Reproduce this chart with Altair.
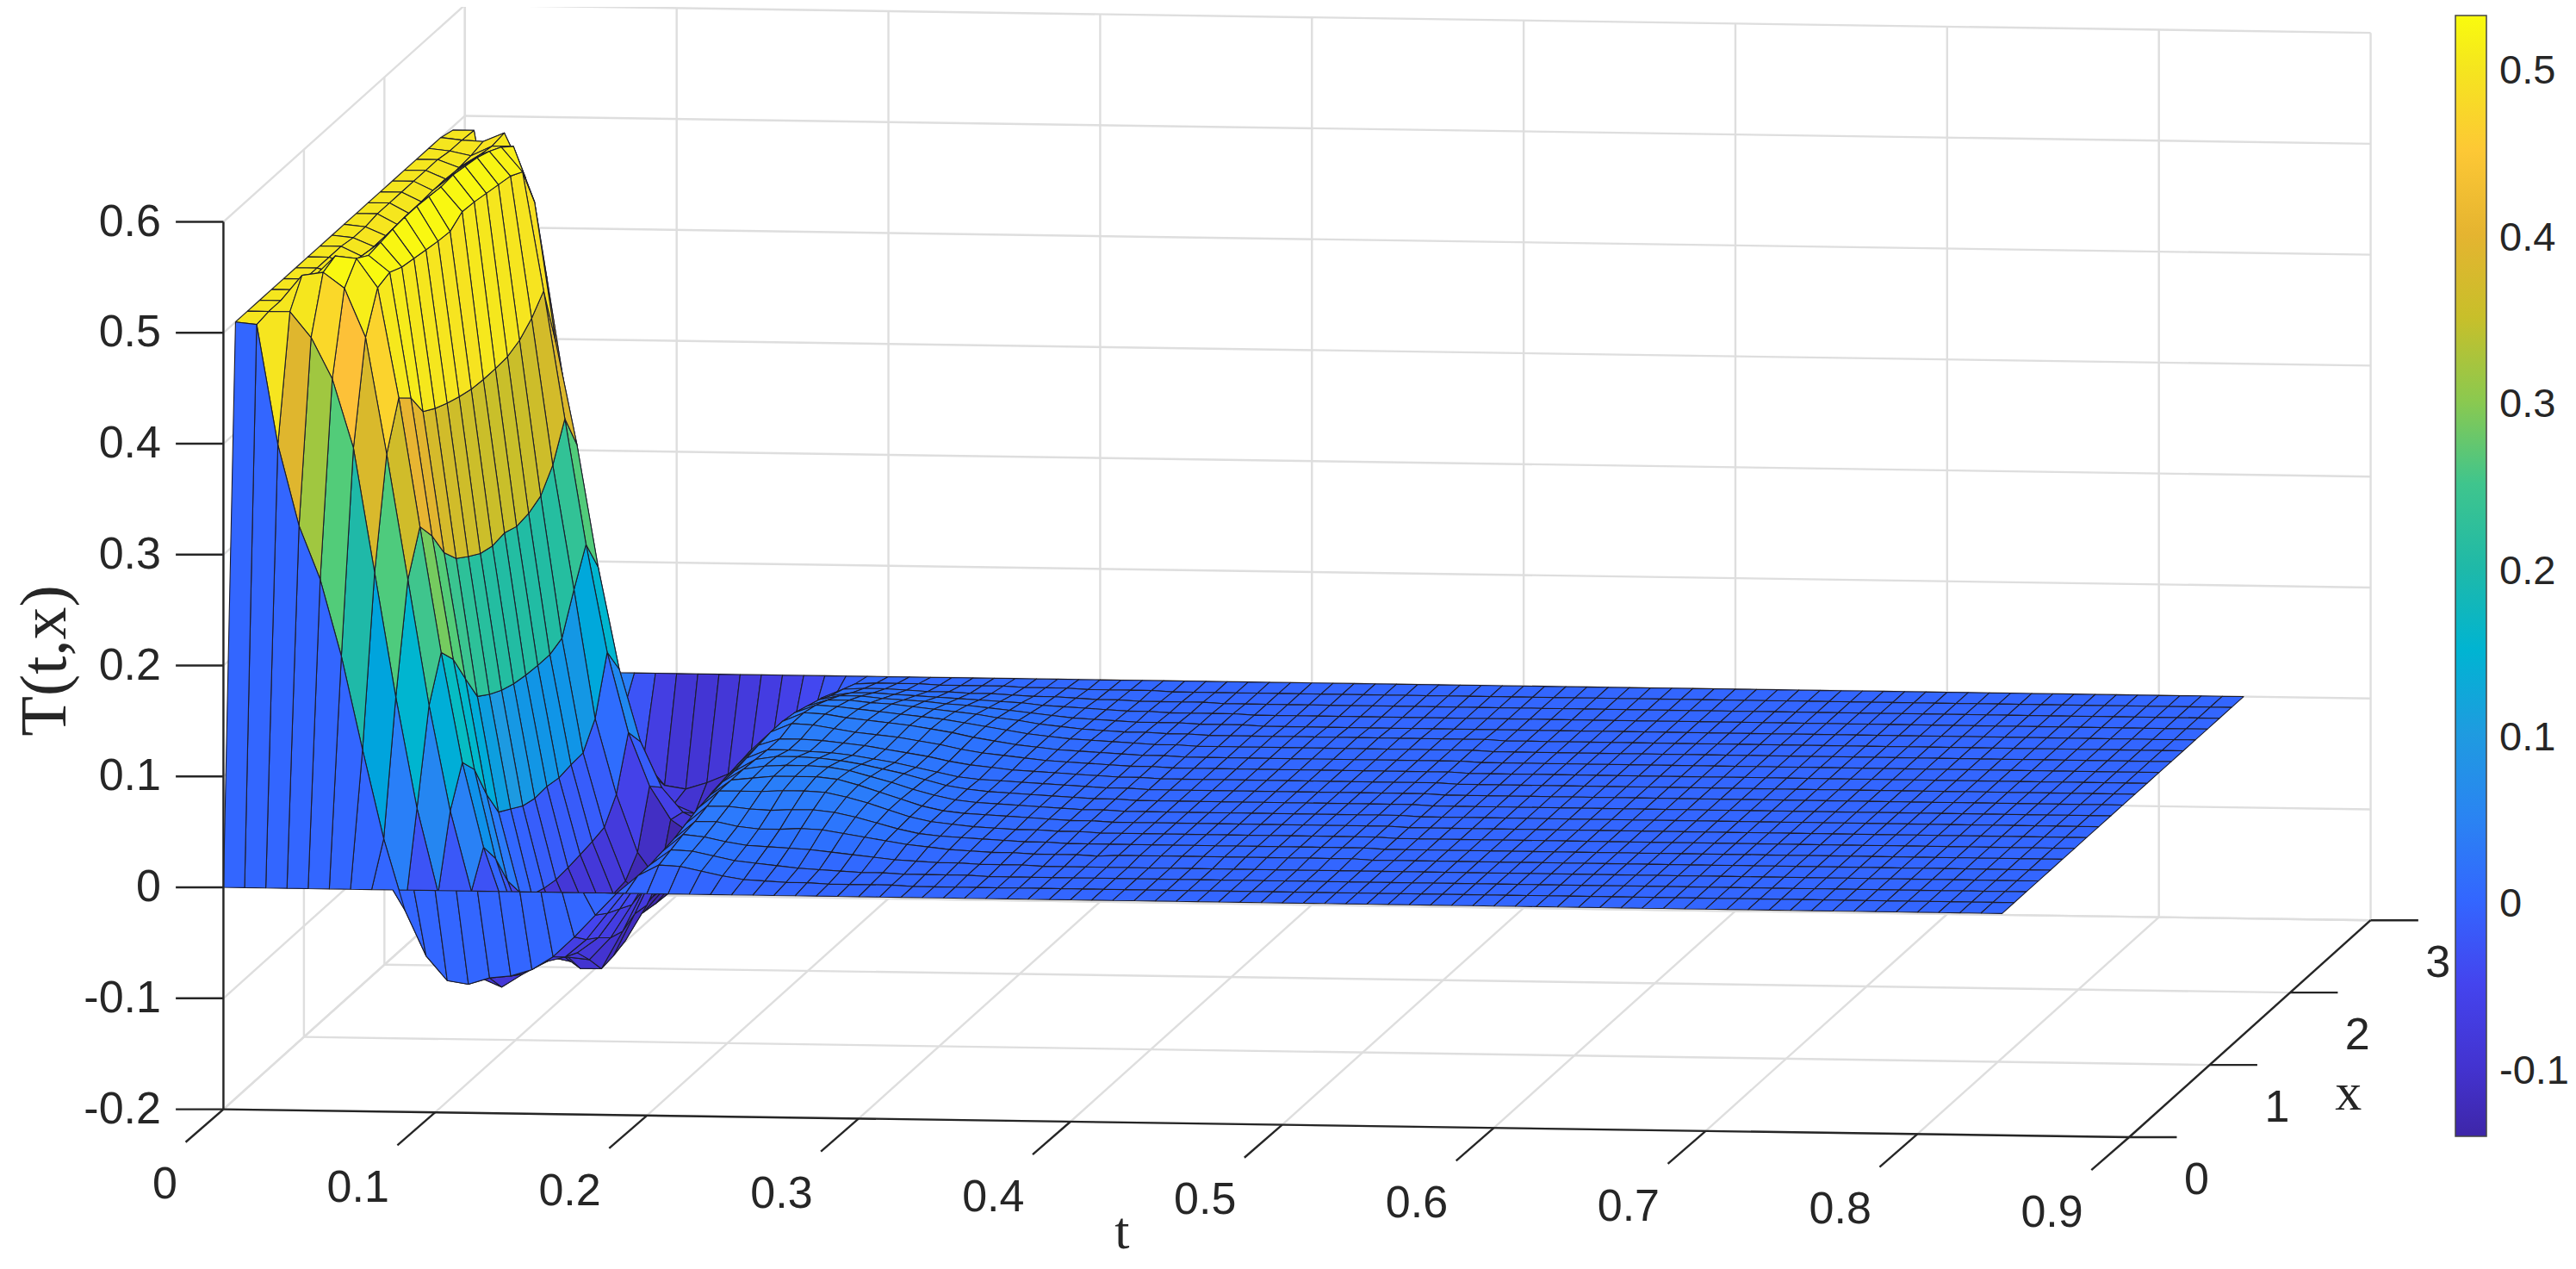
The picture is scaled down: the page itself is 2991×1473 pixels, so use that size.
import altair as alt
import pandas as pd

alt.data_transformers.disable_max_rows()

# grid of the surface: t = 0 .. 0.84 in 0.01 steps, x = 0 .. 3 in 0.15 steps
t_values = [i / 100 for i in range(85)]
x_values = [j * 0.15 for j in range(21)]

# T(t,x) in thousandths, one row per x node; early part, t = 0 .. 0.19
head = [
    [0] * 20,
    [500, 498, 390, 317, 269, 200, 116, 36, -28, -69, -91, -94, -88, -86, -80, -68, -50, -30, -10, 6],
    [500, 500, 500, 477, 440, 378, 266, 154, 54, -22, -72, -98, -106, -94, -83, -78, -62, -38, -14, 6],
    [500, 500, 523, 526, 512, 468, 363, 250, 137, 42, -30, -80, -102, -98, -88, -84, -70, -44, -16, 8],
    [500, 500, 512, 531, 529, 503, 404, 288, 175, 76, 0, -55, -90, -95, -98, -100, -80, -50, -18, 10],
    [500, 500, 500, 515, 522, 507, 394, 270, 159, 60, -20, -75, -98, -104, -118, -118, -84, -46, -14, 14],
    [500, 500, 495, 510, 524, 502, 372, 245, 132, 28, -50, -100, -118, -122, -120, -116, -78, -38, -8, 18],
    [500, 500, 492, 508, 526, 500, 365, 230, 106, 2, -70, -115, -130, -130, -118, -112, -80, -40, -4, 20],
    [500, 500, 491, 508, 527, 498, 360, 222, 98, -5, -82, -125, -138, -132, -114, -88, -58, -26, 0, 22],
    [500, 498, 490, 509, 527, 496, 356, 215, 92, -12, -86, -130, -140, -132, -112, -84, -52, -20, 4, 22],
    [500, 498, 490, 510, 526, 495, 353, 212, 88, -15, -88, -132, -142, -132, -110, -80, -48, -16, 6, 24],
    [500, 500, 490, 510, 525, 503, 352, 214, 86, -14, -87, -132, -143, -134, -112, -82, -48, -14, 8, 26],
    [500, 500, 490, 511, 526, 502, 352, 210, 85, -16, -85, -131, -146, -136, -114, -84, -50, -14, 10, 28],
    [500, 500, 491, 511, 524, 500, 353, 212, 85, -14, -83, -130, -146, -138, -116, -86, -52, -16, 10, 28],
    [500, 500, 491, 510, 522, 498, 358, 218, 90, -13, -80, -128, -145, -139, -118, -88, -54, -18, 8, 26],
    [500, 500, 492, 508, 518, 496, 368, 236, 124, 8, -60, -112, -138, -136, -118, -90, -58, -22, 6, 22],
    [500, 500, 493, 505, 512, 490, 383, 268, 155, 58, -14, -62, -92, -105, -100, -84, -58, -26, 4, 18],
    [500, 498, 494, 503, 503, 453, 327, 235, 125, 33, -32, -73, -95, -104, -100, -82, -56, -26, 2, 12],
    [500, 498, 497, 505, 465, 376, 258, 150, 50, -25, -72, -98, -106, -104, -94, -76, -52, -24, 0, 8],
    [497, 497, 390, 317, 269, 200, 116, 36, -28, -69, -91, -94, -88, -80, -72, -62, -46, -28, -10, 3],
    [0] * 20,
]

# the hump, t = 0.20 .. 0.39
hump = [
    [0] * 20,
    [16, 15, 11, 7, 4, 3, 2, 2, 1, 1, 1, 1, 0, 0, 0, 0, 0, 0, 0, 0],
    [20, 19, 15, 11, 9, 7, 5, 4, 3, 2, 2, 1, 1, 1, 1, 0, 0, 0, 0, 0],
    [24, 22, 18, 15, 14, 13, 12, 10, 8, 6, 4, 3, 2, 2, 1, 1, 1, 0, 0, 0],
    [26, 26, 22, 20, 20, 21, 20, 17, 14, 11, 8, 6, 4, 3, 2, 2, 1, 1, 1, 0],
    [30, 30, 28, 27, 28, 28, 26, 22, 17, 12, 8, 6, 5, 4, 3, 2, 2, 1, 1, 1],
    [34, 34, 34, 35, 35, 34, 30, 25, 19, 13, 9, 7, 5, 4, 3, 3, 2, 2, 1, 1],
    [34, 36, 38, 38, 38, 36, 31, 25, 19, 13, 9, 7, 6, 5, 4, 3, 2, 2, 1, 1],
    [34, 37, 38, 38, 37, 34, 29, 24, 18, 13, 9, 7, 6, 5, 4, 3, 2, 2, 1, 1],
    [33, 36, 36, 35, 33, 30, 26, 22, 17, 12, 9, 7, 6, 5, 4, 3, 2, 2, 1, 1],
    [32, 32, 31, 30, 28, 25, 22, 18, 14, 10, 8, 7, 6, 5, 4, 3, 2, 2, 1, 1],
    [32, 32, 31, 29, 27, 24, 21, 18, 14, 11, 9, 7, 6, 5, 4, 3, 2, 2, 1, 1],
    [36, 35, 32, 29, 27, 25, 22, 19, 15, 12, 10, 8, 6, 5, 4, 3, 2, 2, 1, 1],
    [36, 35, 32, 30, 28, 26, 23, 20, 16, 13, 10, 8, 6, 5, 4, 3, 2, 2, 1, 1],
    [33, 32, 30, 28, 26, 24, 22, 19, 16, 13, 10, 8, 6, 5, 4, 3, 2, 2, 1, 1],
    [28, 28, 26, 25, 23, 21, 19, 17, 14, 12, 9, 7, 5, 4, 3, 3, 2, 2, 1, 1],
    [22, 22, 20, 19, 18, 16, 15, 13, 11, 9, 7, 5, 4, 3, 2, 2, 2, 1, 1, 1],
    [15, 15, 14, 13, 12, 11, 10, 9, 8, 6, 5, 4, 3, 2, 2, 1, 1, 1, 1, 0],
    [9, 9, 8, 7, 7, 6, 6, 5, 4, 4, 3, 2, 2, 1, 1, 1, 1, 0, 0, 0],
    [4, 4, 4, 3, 3, 3, 3, 2, 2, 2, 1, 1, 1, 1, 0, 0, 0, 0, 0, 0],
    [0] * 20,
]

# nearly flat tail, t = 0.40 .. 0.84
tail_mid = [1, 1, 1, 1, 1, 1, 1, 1, 1, 1, 1, 1, 0, 0, 0, 0, 0, 0, 0, 0, 0, 0, 0,
            0, 0, 0, 0, 0, 0, 0, 0, 0, 0, 0, 0, 0, 0, 0, 0, 0, 0, 0, 0, 0, 0]
tail_edge = [0] * 45
tails = [tail_edge, tail_edge, tail_edge, tail_edge, tail_mid, tail_mid, tail_mid,
         tail_mid, tail_mid, tail_mid, tail_mid, tail_mid, tail_mid, tail_mid,
         tail_mid, tail_mid, tail_edge, tail_edge, tail_edge, tail_edge, tail_edge]

# axis ticks
z_ticks = [-0.2, -0.1, 0, 0.1, 0.2, 0.3, 0.4, 0.5, 0.6]
z_labels = ["-0.2", "-0.1", "0", "0.1", "0.2", "0.3", "0.4", "0.5", "0.6"]
t_ticks = [0, 0.1, 0.2, 0.3, 0.4, 0.5, 0.6, 0.7, 0.8, 0.9]
t_labels = ["0", "0.1", "0.2", "0.3", "0.4", "0.5", "0.6", "0.7", "0.8", "0.9"]
x_ticks = [0, 1, 2, 3]
bar_ticks = [-0.1, 0, 0.1, 0.2, 0.3, 0.4, 0.5]
bar_labels = ["-0.1", "0", "0.1", "0.2", "0.3", "0.4", "0.5"]

# parula as it reads off the colorbar
color_domain = [-0.1415, -0.1, -0.05, 0, 0.025, 0.05, 0.1, 0.17, 0.2, 0.25, 0.27, 0.3, 0.35, 0.4, 0.43, 0.45, 0.5, 0.531]
color_range = ["#3e26a8", "#4333d0", "#4444ee", "#3366ff", "#2c7afc", "#2a84f2", "#1f9be0", "#0abcc8", "#1fb9a8",
               "#3fc58d", "#53cc78", "#8bc94f", "#c8bf2a", "#e5b430", "#fdbb3c", "#fdc835", "#f5e61e", "#f9fb0e"]

K = 2991 / 1568
W, H = 2975, 1457


# view of the box, orthographic: 3D point to page pixel
def px(t, x):
    return K * (136 + t / 0.9 * 1160 + x / 3 * 147)


def py(t, x, z):
    return K * (540 + t / 0.9 * 17 - x / 3 * 132 - z / 0.1 * 67.5)


# surface cells, far ones first; a cell takes the colour of its first corner
T = [[v / 1000 for v in head[j] + hump[j] + tails[j]] for j in range(21)]
cells = []
for i in range(len(t_values) - 1):
    for j in range(len(x_values) - 1):
        corners = [(i, j), (i + 1, j), (i + 1, j + 1), (i, j + 1), (i, j)]
        mean_t = (t_values[i] + t_values[i + 1]) / 2
        mean_x = (x_values[j] + x_values[j + 1]) / 2
        mean_z = sum(T[b][a] for a, b in corners[:4]) / 4
        depth = 380 * mean_x - 163 * mean_t - 78 * mean_z
        cells.append((depth, i, j, corners))
cells.sort(key=lambda c: -c[0])

rows = []
for n, (depth, i, j, corners) in enumerate(cells):
    for v, (a, b) in enumerate(corners):
        rows.append({"cell": n, "v": v, "T": T[j][i],
                     "px": px(t_values[a], x_values[b]),
                     "py": py(t_values[a], x_values[b], T[b][a])})
surface = pd.DataFrame(rows)


def segments(points):
    out = []
    for n, (a, b) in enumerate(points):
        out.append({"id": n, "v": 0, "px": a[0], "py": a[1]})
        out.append({"id": n, "v": 1, "px": b[0], "py": b[1]})
    return pd.DataFrame(out)


def p3(t, x, z):
    return (px(t, x), py(t, x, z))


zlo, zhi = -0.2, 0.6
grid_pts = []
for z in z_ticks:
    grid_pts.append((p3(0, 0, z), p3(0, 3, z)))
    grid_pts.append((p3(0, 3, z), p3(0.9, 3, z)))
for t in t_ticks:
    grid_pts.append((p3(t, 3, zlo), p3(t, 3, zhi)))
    grid_pts.append((p3(t, 0, zlo), p3(t, 3, zlo)))
for x in x_ticks:
    grid_pts.append((p3(0, x, zlo), p3(0, x, zhi)))
    grid_pts.append((p3(0, x, zlo), p3(0.9, x, zlo)))

axis_pts = [
    (p3(0, 0, zlo), p3(0, 0, zhi)),
    (p3(0, 0, zlo), p3(0.9, 0, zlo)),
    (p3(0.9, 0, zlo), p3(0.9, 3, zlo)),
]
for z in z_ticks:
    a = p3(0, 0, z)
    axis_pts.append((a, (a[0] - 29 * K, a[1])))
for t in t_ticks:
    a = p3(t, 0, zlo)
    axis_pts.append((a, (a[0] - 23 * K, a[1] + 20 * K)))
for x in x_ticks:
    a = p3(0.9, x, zlo)
    axis_pts.append((a, (a[0] + 29 * K, a[1])))


def bar_y(v):
    return 78.3 + (0.5 - v) * 1934


bar_pts = [((2873, bar_y(v)), (2887, bar_y(v))) for v in bar_ticks]

labels = []
for z, s in zip(z_ticks, z_labels):
    a = p3(0, 0, z)
    labels.append({"s": s, "px": a[0] - 38 * K, "py": a[1], "align": "right"})
for t, s in zip(t_ticks, t_labels):
    a = p3(t, 0, zlo)
    labels.append({"s": s, "px": a[0] - 28 * K, "py": a[1] + 46 * K, "align": "right"})
for x in x_ticks:
    a = p3(0.9, x, zlo)
    labels.append({"s": str(x), "px": a[0] + 41 * K, "py": a[1] + 26 * K, "align": "center"})
labels = pd.DataFrame(labels)

xs = alt.X("px:Q", scale=alt.Scale(domain=[8, 8 + W], range=[0, W]), axis=None)
ys = alt.Y("py:Q", scale=alt.Scale(domain=[8, 8 + H], range=[0, H]), axis=None)


def lines(df, color, width):
    return alt.Chart(df).mark_line(color=color, strokeWidth=width).encode(
        x=xs, y=ys, detail="id:N", order="v:Q"
    )


surface_layer = alt.Chart(surface).mark_line(
    filled=True, stroke="#1c1c2a", strokeWidth=1.1, strokeJoin="round"
).encode(
    x=xs, y=ys, detail="cell:N", order="v:Q",
    fill=alt.Fill(
        "T:Q",
        scale=alt.Scale(domain=color_domain, range=color_range, clamp=True),
        legend=alt.Legend(
            type="gradient", orient="none", direction="vertical", title=None,
            legendX=2843, legendY=10,
            gradientLength=1301, gradientThickness=36,
            gradientStrokeColor="#444444", gradientStrokeWidth=1.5,
            values=bar_ticks, labelExpr="''",
        ),
    ),
)

tick_text = alt.Chart(labels[labels["align"] == "right"]).mark_text(
    align="right", baseline="middle", font="Liberation Sans", fontSize=52, color="#262626"
).encode(x=xs, y=ys, text="s:N")
x_text = alt.Chart(labels[labels["align"] == "center"]).mark_text(
    align="center", baseline="middle", font="Liberation Sans", fontSize=52, color="#262626"
).encode(x=xs, y=ys, text="s:N")

bar_text = alt.Chart(pd.DataFrame({
    "s": bar_labels, "px": [2902] * len(bar_labels), "py": [bar_y(v) + 5 for v in bar_ticks],
})).mark_text(
    align="left", baseline="middle", font="Liberation Sans", fontSize=47, color="#262626"
).encode(x=xs, y=ys, text="s:N")

titles = pd.DataFrame([
    {"s": "t", "px": px(0.45, 0) - 33 * K, "py": py(0.45, 0, -0.2) + 66 * K},
    {"s": "x", "px": px(0.9, 1.5) + 60 * K, "py": py(0.9, 1.5, -0.2) + 39 * K},
])
title_text = alt.Chart(titles).mark_text(
    align="center", baseline="middle", font="Liberation Serif", fontSize=62, color="#262626"
).encode(x=xs, y=ys, text="s:N")
z_title = alt.Chart(pd.DataFrame([{"s": "T(t,x)", "px": 28 * K, "py": py(0, 0, 0.2) - 3 * K}])).mark_text(
    align="center", baseline="middle", font="Liberation Serif", fontSize=76, color="#262626", angle=270
).encode(x=xs, y=ys, text="s:N")

chart = alt.layer(
    lines(segments(grid_pts), "#dedede", 2.4),
    surface_layer,
    lines(segments(axis_pts), "#262626", 2.4),
    lines(segments(bar_pts), "#444444", 2),
    tick_text,
    x_text,
    bar_text,
    title_text,
    z_title,
).properties(
    width=W, height=H, padding=0, autosize=alt.AutoSizeParams(type="none")
).configure_view(stroke=None)

chart.save("out.html", embed_options={"renderer": "svg", "actions": False})
